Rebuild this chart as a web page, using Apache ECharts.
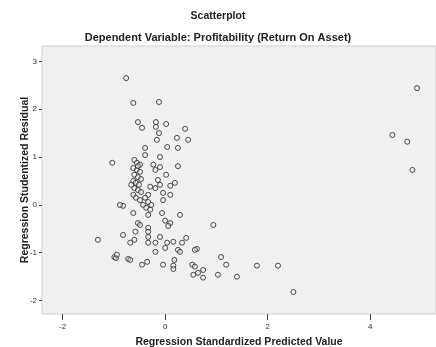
<!DOCTYPE html>
<html>
<head>
<meta charset="utf-8">
<script src="https://cdn.jsdelivr.net/npm/echarts@6/dist/echarts.min.js"></script>
<style>
  html, body { margin: 0; padding: 0; background: #fff; }
  #chart { width: 436px; height: 347px; }
</style>
</head>
<body>
<div id="chart"></div>
<script>
const titleText = 'Scatterplot'
const subtitleText = 'Dependent Variable: Profitability (Return On Asset)'
const xName = 'Regression Standardized Predicted Value'
const yName = 'Regression Studentized Residual'

const xTicks = [-2, 0, 2, 4]
const yTicks = [-2, -1, 0, 1, 2, 3]

// standardized predicted values
const predicted = [
  -0.76, -0.62, -0.12, -0.53, -0.45, -0.18, -0.18, 0.02, 0.39, 0.45,
  0.23, -0.12, -0.16, 0.04, -0.39, -0.39, -0.10, 0.25, -1.03, -0.60,
  -0.55, -0.49, -0.62, -0.55, -0.49, -0.60, -0.53, -0.47, -0.62, -0.57,
  -0.51, -0.60, -0.53, -0.47, -0.62, -0.57, -0.49, -0.66, -0.53, -0.23,
  -0.10, 0.25, -0.19, 0.02, 0.19, 0.10, -0.29, -0.33, -0.04, -0.04,
  -0.39, -0.33, -0.27, -0.37, -0.29, -0.82, -0.88, -0.62, -0.33, -0.06,
  0.29, 0.00, 0.10, -0.53, 0.94, -0.49, -0.33, -0.33, -0.58, -0.82,
  -0.10, -0.33, -1.31, -0.68, -0.60, -0.33, -0.19, 0.04, 0.16, 0.33,
  0.41, 0.00, 0.25, 0.29, 0.62, 0.58, -0.19, -0.99, -0.96, -0.94,
  -0.72, -0.68, 1.09, -0.45, -0.35, -0.04, 0.16, 0.16, 0.18, 0.53,
  0.58, 1.19, 0.64, 0.74, 0.55, 0.74, 1.03, 1.40, 1.79, 2.20,
  2.50, 4.91, 4.43, 4.82, 4.72, 0.06, 0.10, -0.14, -0.19, -0.43,
  -0.10
]

// studentized residuals
const residual = [
  2.65, 2.13, 2.15, 1.73, 1.61, 1.73, 1.63, 1.69, 1.59, 1.36,
  1.40, 1.50, 1.36, 1.21, 1.19, 1.04, 1.00, 1.19, 0.88, 0.94,
  0.88, 0.84, 0.77, 0.73, 0.69, 0.63, 0.58, 0.54, 0.50, 0.46,
  0.42, 0.35, 0.31, 0.27, 0.21, 0.15, 0.10, 0.42, 0.81, 0.84,
  0.79, 0.81, 0.73, 0.63, 0.46, 0.40, 0.38, 0.21, 0.25, 0.10,
  0.15, 0.06, 0.00, -0.06, -0.10, -0.02, 0.00, -0.17, -0.21, -0.17,
  -0.21, -0.33, -0.38, -0.38, -0.42, -0.42, -0.48, -0.56, -0.56, -0.63,
  -0.67, -0.67, -0.73, -0.79, -0.73, -0.79, -0.79, -0.79, -0.77, -0.79,
  -0.69, -0.90, -0.94, -0.98, -0.92, -0.94, -0.98, -1.09, -1.11, -1.04,
  -1.13, -1.15, -1.09, -1.25, -1.19, -1.25, -1.27, -1.34, -1.15, -1.25,
  -1.29, -1.25, -1.42, -1.36, -1.46, -1.52, -1.46, -1.50, -1.27, -1.27,
  -1.82, 2.44, 1.46, 0.73, 1.32, -0.44, 0.21, 0.52, 0.35, 0.00,
  0.42
]

const points = predicted.map((x, i) => [x, residual[i]])

const textFont = { fontFamily: 'Liberation Sans', fontWeight: 'bold', color: '#222' }

const chart = echarts.init(document.getElementById('chart'), null, { renderer: 'canvas' })

chart.setOption({
  animation: false,
  title: [
    {
      text: titleText,
      left: 'center',
      top: 6,
      textStyle: { ...textFont, fontSize: 10.5 },
    },
    {
      text: subtitleText,
      left: 'center',
      top: 27,
      textStyle: { ...textFont, fontSize: 11 },
    },
  ],
  grid: {
    left: 42,
    right: 0,
    top: 46,
    bottom: 33,
    outerBoundsMode: 'none',
    show: true,
    backgroundColor: '#f0f0f0',
    borderColor: '#d0d0d0',
    borderWidth: 1,
  },
  xAxis: {
    type: 'value',
    min: -2.4,
    max: 5.28,
    name: xName,
    nameLocation: 'middle',
    nameGap: 23,
    nameMoveOverlap: false,
    nameTextStyle: { ...textFont, fontSize: 10.5 },
    axisLine: { show: false, onZero: false },
    splitLine: { show: false },
    axisTick: { show: true, length: 6, customValues: xTicks, lineStyle: { color: '#444' } },
    axisLabel: { customValues: xTicks, color: '#333', fontSize: 8, margin: 9, fontFamily: 'Liberation Sans' },
  },
  yAxis: {
    type: 'value',
    min: -2.28,
    max: 3.32,
    name: yName,
    nameLocation: 'middle',
    nameGap: 11,
    nameMoveOverlap: false,
    nameTextStyle: { ...textFont, fontSize: 10.5 },
    axisLine: { show: false, onZero: false },
    splitLine: { show: false },
    axisTick: { show: true, length: 3, customValues: yTicks, lineStyle: { color: '#444' } },
    axisLabel: { customValues: yTicks, color: '#333', fontSize: 8, margin: 5, fontFamily: 'Liberation Sans' },
  },
  series: [
    {
      type: 'scatter',
      symbol: 'circle',
      symbolSize: 5,
      itemStyle: { color: 'rgba(240,240,240,0.6)', borderColor: '#222', borderWidth: 1 },
      data: points,
    },
  ],
})
</script>
</body>
</html>
